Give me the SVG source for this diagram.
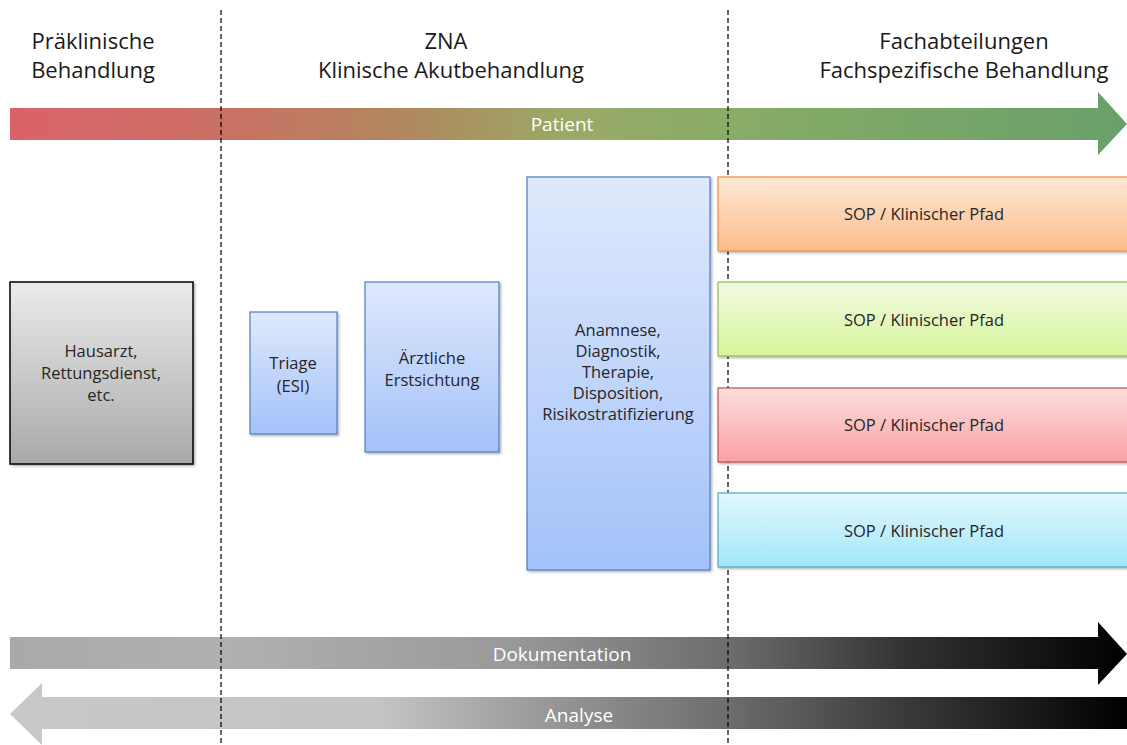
<svg xmlns="http://www.w3.org/2000/svg" width="1127" height="745" viewBox="0 0 1127 745">
<style>
.hdr{font-family:"Open Sans","Noto Sans","Liberation Sans",sans-serif;font-size:22px;fill:#1a1a1a;text-anchor:middle}
.lbl{font-family:"Open Sans","Noto Sans","Liberation Sans",sans-serif;font-size:16.5px;fill:#262626;text-anchor:middle}
.arl{font-family:"Open Sans","Noto Sans","Liberation Sans",sans-serif;font-size:19px;fill:#ffffff;text-anchor:middle}
.div{stroke:#000;stroke-width:1.2;stroke-dasharray:5 3;fill:none}
.box{filter:url(#sh)}
</style>
<defs>
<filter id="sh" x="-5%" y="-5%" width="115%" height="115%"><feDropShadow dx="1.5" dy="1.5" stdDeviation="1.2" flood-color="#000" flood-opacity="0.3"/></filter>
<linearGradient id="gPat" x1="0" y1="0" x2="1" y2="0">
<stop offset="0" stop-color="#da626a"/><stop offset="0.2" stop-color="#c97163"/><stop offset="0.36" stop-color="#b0895f"/><stop offset="0.5" stop-color="#9aaa66"/><stop offset="0.65" stop-color="#88ac66"/><stop offset="1" stop-color="#68a06a"/>
</linearGradient>
<linearGradient id="gDok" x1="0" y1="0" x2="1" y2="0">
<stop offset="0" stop-color="#a9a9a9"/><stop offset="0.2" stop-color="#b0b0b0"/><stop offset="0.45" stop-color="#999999"/><stop offset="0.65" stop-color="#6b6b6b"/><stop offset="0.8" stop-color="#333333"/><stop offset="1" stop-color="#000000"/>
</linearGradient>
<linearGradient id="gAna" x1="0" y1="0" x2="1" y2="0">
<stop offset="0" stop-color="#c8c8c8"/><stop offset="0.33" stop-color="#c4c4c4"/><stop offset="0.45" stop-color="#a0a0a0"/><stop offset="0.65" stop-color="#6b6b6b"/><stop offset="0.8" stop-color="#3a3a3a"/><stop offset="1" stop-color="#000000"/>
</linearGradient>
<linearGradient id="gGray" x1="0" y1="0" x2="0" y2="1"><stop offset="0" stop-color="#ebebeb"/><stop offset="1" stop-color="#a9a9a9"/></linearGradient>
<linearGradient id="gBlue" x1="0" y1="0" x2="0" y2="1"><stop offset="0" stop-color="#dfe9fc"/><stop offset="1" stop-color="#a3c2f9"/></linearGradient>
<linearGradient id="gOr" x1="0" y1="0" x2="0" y2="1"><stop offset="0" stop-color="#fde8d6"/><stop offset="1" stop-color="#fbbd8b"/></linearGradient>
<linearGradient id="gGr" x1="0" y1="0" x2="0" y2="1"><stop offset="0" stop-color="#f2fae2"/><stop offset="1" stop-color="#d6f59b"/></linearGradient>
<linearGradient id="gRd" x1="0" y1="0" x2="0" y2="1"><stop offset="0" stop-color="#fddddd"/><stop offset="1" stop-color="#f9a2a2"/></linearGradient>
<linearGradient id="gCy" x1="0" y1="0" x2="0" y2="1"><stop offset="0" stop-color="#e2f8fd"/><stop offset="1" stop-color="#a2e6f8"/></linearGradient>
</defs>
<rect width="1127" height="745" fill="#fff"/>

<g id="headers">
<text class="hdr" x="93" y="49">Präklinische</text>
<text class="hdr" x="93" y="78">Behandlung</text>
<text class="hdr" x="446" y="49">ZNA</text>
<text class="hdr" x="451" y="78">Klinische Akutbehandlung</text>
<text class="hdr" x="964" y="49">Fachabteilungen</text>
<text class="hdr" x="964" y="78">Fachspezifische Behandlung</text>
</g>

<g id="connectors">
<g id="arrow-patient">
<path d="M10 108 H1098 V92 L1127 124 L1098 155 V140 H10 Z" fill="url(#gPat)"/>
<text class="arl" x="562" y="131">Patient</text>
</g>
<g id="arrow-doku">
<path d="M10 637 H1098 V622 L1127 654 L1098 685 V669 H10 Z" fill="url(#gDok)"/>
<text class="arl" x="562" y="661">Dokumentation</text>
</g>
<g id="arrow-analyse">
<path d="M1127 697 H42 V683 L10 714 L42 745 V729 H1127 Z" fill="url(#gAna)"/>
<text class="arl" x="579" y="722">Analyse</text>
</g>
</g>

<g id="dividers">
<line class="div" x1="221" y1="10" x2="221" y2="745"/>
<line class="div" x1="728" y1="10" x2="728" y2="745"/>
</g>

<g id="node-hausarzt">
<rect class="box" x="10" y="282" width="183" height="182" fill="url(#gGray)" stroke="#000" stroke-width="1.5"/>
<text class="lbl" x="101" y="357">Hausarzt,</text>
<text class="lbl" x="101" y="379">Rettungsdienst,</text>
<text class="lbl" x="101" y="401">etc.</text>
</g>
<g id="node-triage">
<rect class="box" x="250" y="312" width="87" height="122" fill="url(#gBlue)" stroke="#4f7fc0" stroke-width="1.2"/>
<text class="lbl" x="293" y="369">Triage</text>
<text class="lbl" x="293" y="392">(ESI)</text>
</g>
<g id="node-erstsichtung">
<rect class="box" x="365" y="282" width="134" height="170" fill="url(#gBlue)" stroke="#4f7fc0" stroke-width="1.2"/>
<text class="lbl" x="432" y="364">Ärztliche</text>
<text class="lbl" x="432" y="386">Erstsichtung</text>
</g>
<g id="node-anamnese">
<rect class="box" x="527" y="177" width="183" height="393" fill="url(#gBlue)" stroke="#4f7fc0" stroke-width="1.2"/>
<text class="lbl" x="618" y="336">Anamnese,</text>
<text class="lbl" x="618" y="357">Diagnostik,</text>
<text class="lbl" x="618" y="378">Therapie,</text>
<text class="lbl" x="618" y="399">Disposition,</text>
<text class="lbl" x="618" y="420">Risikostratifizierung</text>
</g>
<g id="node-sop1">
<rect class="box" x="718" y="177" width="420" height="74" fill="url(#gOr)" stroke="#f08c3e" stroke-width="1.2"/>
<text class="lbl" x="924" y="220">SOP / Klinischer Pfad</text>
</g>
<g id="node-sop2">
<rect class="box" x="718" y="282" width="420" height="74" fill="url(#gGr)" stroke="#94b856" stroke-width="1.2"/>
<text class="lbl" x="924" y="326">SOP / Klinischer Pfad</text>
</g>
<g id="node-sop3">
<rect class="box" x="718" y="388" width="420" height="74" fill="url(#gRd)" stroke="#c0504d" stroke-width="1.2"/>
<text class="lbl" x="924" y="431">SOP / Klinischer Pfad</text>
</g>
<g id="node-sop4">
<rect class="box" x="718" y="493" width="420" height="74" fill="url(#gCy)" stroke="#4bacc6" stroke-width="1.2"/>
<text class="lbl" x="924" y="537">SOP / Klinischer Pfad</text>
</g>
</svg>
